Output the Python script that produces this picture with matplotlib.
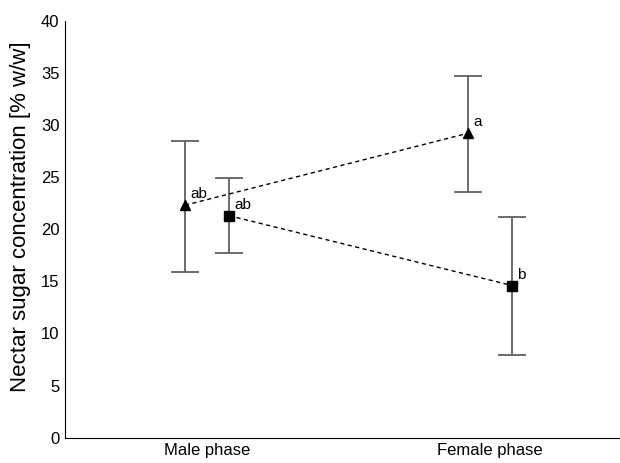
import numpy as np
import matplotlib
matplotlib.use('Agg')
import matplotlib.pyplot as plt

plt.rcParams['font.family'] = ['Liberation Sans', 'DejaVu Sans']

phases = ['Male phase', 'Female phase']
# triangle series
tri_mean = [22.3, 29.2]
tri_lo = [15.9, 23.6]
tri_hi = [28.5, 34.7]
tri_letters = ['ab', 'a']
# square series
sq_mean = [21.3, 14.6]
sq_lo = [17.7, 7.9]
sq_hi = [24.9, 21.2]
sq_letters = ['ab', 'b']

yticks = [0, 5, 10, 15, 20, 25, 30, 35, 40]

fig = plt.figure(figsize=(6.2, 4.63), dpi=100)
ax = fig.add_axes([0.1048, 0.0546, 0.8952, 0.9007])

x = np.arange(len(phases))
off = 0.078
ebc = '#606060'

def draw(xs, mean, lo, hi, marker, letters, dy):
    mean = np.array(mean)
    err = [mean - np.array(lo), np.array(hi) - mean]
    ax.errorbar(xs, mean, yerr=err, fmt='none', ecolor=ebc, elinewidth=1.3,
                capsize=10, capthick=1.3, zorder=2)
    ax.plot(xs, mean, color='black', linestyle=(0, (3, 2.5)), linewidth=1.0,
            marker=marker, markersize=6.5, markerfacecolor='black',
            markeredgecolor='black', zorder=3)
    for xi, yi, t in zip(xs, mean, letters):
        ax.text(xi + 0.018, yi + dy, t, fontsize=11, ha='left', va='center')

draw(x - off, tri_mean, tri_lo, tri_hi, '^', tri_letters, 1.1)
draw(x + off, sq_mean, sq_lo, sq_hi, 's', sq_letters, 1.0)

ax.set_xlim(-0.502, 1.46)
ax.set_ylim(0, 40)
ax.set_xticks(x)
ax.set_xticklabels(phases, fontsize=12)
ax.set_yticks(yticks)
ax.set_yticklabels([str(v) for v in yticks], fontsize=12)
ax.tick_params(length=0, pad=4)
ax.set_ylabel('Nectar sugar concentration [% w/w]', fontsize=16)
ax.yaxis.set_label_coords(-0.061, 0.529)
ax.spines['top'].set_visible(False)
ax.spines['right'].set_visible(False)

fig.savefig('out.png', dpi=100)
